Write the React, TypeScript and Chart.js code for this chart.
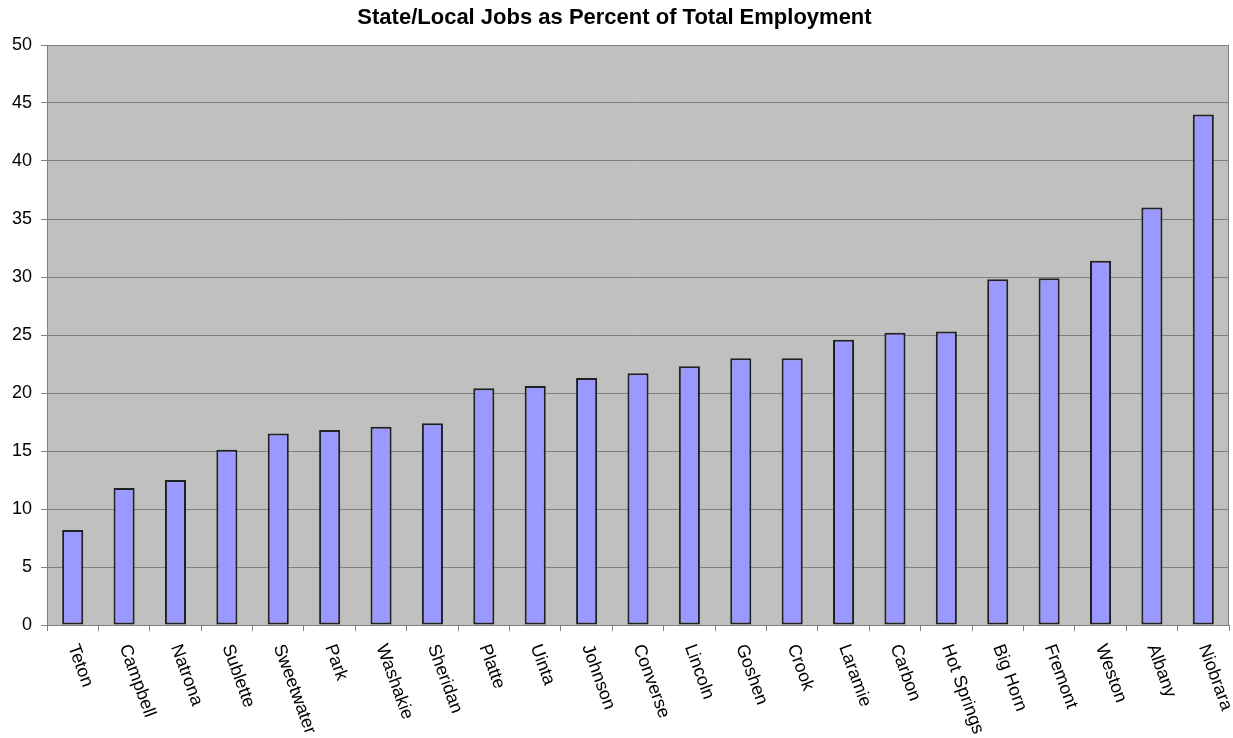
import React, { useEffect, useRef } from "react";
import { Chart, registerables } from "chart.js";

Chart.register(...registerables);

const counties: string[] = [
  "Teton", "Campbell", "Natrona", "Sublette", "Sweetwater", "Park", "Washakie",
  "Sheridan", "Platte", "Uinta", "Johnson", "Converse", "Lincoln", "Goshen",
  "Crook", "Laramie", "Carbon", "Hot Springs", "Big Horn", "Fremont", "Weston",
  "Albany", "Niobrara",
];

const percentStateLocal: number[] = [
  8.2, 11.8, 12.5, 15.1, 16.5, 16.8, 17.1, 17.4, 20.4, 20.6, 21.3, 21.7, 22.3,
  23.0, 23.0, 24.6, 25.2, 25.3, 29.8, 29.9, 31.4, 36.0, 44.0,
];

const chartTitle = "State/Local Jobs as Percent of Total Employment";
const yMin = 0;
const yMax = 50;
const yStep = 5;

const FONT = "'Liberation Sans', Arial, Helvetica, sans-serif";

const plotDecor = {
  id: "plotDecor",
  beforeDraw(chart: any) {
    const { ctx, chartArea } = chart;
    ctx.save();
    ctx.fillStyle = "#c0c0c0";
    ctx.fillRect(chartArea.left, chartArea.top, chartArea.right - chartArea.left, chartArea.bottom - chartArea.top);
    ctx.restore();
  },
  afterDraw(chart: any) {
    const { ctx, chartArea } = chart;
    ctx.save();
    ctx.strokeStyle = "#808080";
    ctx.lineWidth = 1;
    ctx.beginPath();
    ctx.moveTo(chartArea.left, chartArea.top + 0.5);
    ctx.lineTo(chartArea.right - 0.5, chartArea.top + 0.5);
    ctx.lineTo(chartArea.right - 0.5, chartArea.bottom);
    ctx.stroke();
    ctx.restore();

    // rotated category labels (clockwise, reading downward)
    const xScale = chart.scales.x;
    const labels: string[] = chart.data.labels;
    ctx.save();
    ctx.fillStyle = "#000";
    ctx.font = `18px ${FONT}`;
    ctx.textAlign = "left";
    ctx.textBaseline = "middle";
    const angle = (70 * Math.PI) / 180;
    labels.forEach((lab, i) => {
      const x = xScale.getPixelForTick(i);
      const y = xScale.top + 20;
      ctx.save();
      ctx.translate(x, y);
      ctx.rotate(angle);
      ctx.fillText(lab, 0, 0);
      ctx.restore();
    });
    ctx.restore();
  },
};

export default function App() {
  const canvasRef = useRef<HTMLCanvasElement | null>(null);

  useEffect(() => {
    if (!canvasRef.current) return;
    Chart.defaults.font.family = FONT;
    const chart = new Chart(canvasRef.current, {
      type: "bar",
      data: {
        labels: counties,
        datasets: [
          {
            data: percentStateLocal,
            backgroundColor: "#9999ff",
            borderColor: "#202020",
            borderWidth: 2,
            borderSkipped: false,
            barPercentage: 0.82,
            categoryPercentage: 0.5,
          },
        ],
      },
      options: {
        animation: false,
        responsive: true,
        maintainAspectRatio: false,
        layout: { padding: { left: 0, right: 4, top: 0, bottom: 0 } },
        plugins: {
          legend: { display: false },
          tooltip: { enabled: false },
          title: {
            display: true,
            text: chartTitle,
            color: "#000",
            font: { size: 22, weight: "bold", family: FONT },
            padding: { top: 5, bottom: 13.6 },
          },
        },
        scales: {
          x: {
            grid: {
              display: true,
              drawOnChartArea: false,
              drawTicks: true,
              tickLength: 6,
              color: "#808080",
              offset: true,
            },
            border: { color: "#808080", width: 1 },
            ticks: { display: false },
            afterFit(scale: any) {
              scale.height = 113;
            },
          },
          y: {
            min: yMin,
            max: yMax,
            ticks: {
              stepSize: yStep,
              color: "#000",
              font: { size: 18, family: FONT },
              padding: 9,
            },
            grid: { color: "#808080", tickLength: 6, lineWidth: 1 },
            border: { color: "#808080", width: 1 },
            afterFit(scale: any) {
              scale.width = 47;
            },
          },
        },
      },
      plugins: [plotDecor],
    } as any);
    return () => chart.destroy();
  }, []);

  return (
    <div style={{ position: "fixed", left: 0, top: 0, width: 1233, height: 738, background: "#fff" }}>
      <canvas ref={canvasRef} />
    </div>
  );
}
